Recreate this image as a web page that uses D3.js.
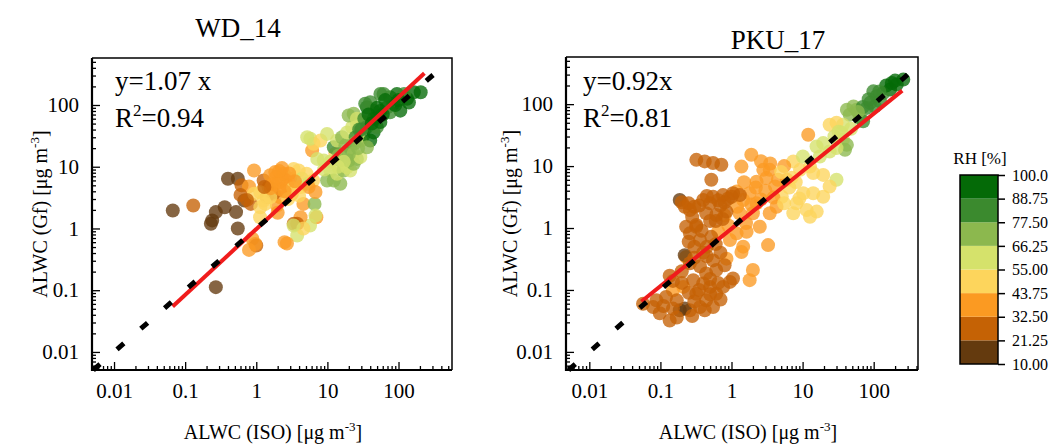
<!DOCTYPE html>
<html>
<head>
<meta charset="utf-8">
<script src="https://cdn.jsdelivr.net/npm/d3@7"></script>
<style>
  body { margin: 0; background: #fff; }
  svg { display: block; font-family: "Liberation Serif", "Times New Roman", serif; }
</style>
</head>
<body>
<svg width="1055" height="448"></svg>
<script>
// [ALWC ISO, ALWC Gf, RH %]
const wd14Points = [
  [0.067,1.95,15],[0.13,2.36,30],[0.23,1.19,15],[0.24,1.35,15],[0.27,1.84,17],[0.36,2.21,17],
  [0.52,1.84,18],[0.55,1.0,16],[0.40,6.4,19],[0.55,6.4,20],[0.62,5.0,24],[0.79,4.8,36],
  [0.68,2.84,20],[0.84,2.5,22],[0.93,3.65,50],[0.93,8.7,38],[0.27,0.112,17],[0.88,0.68,38],
  [1.0,0.53,30],[1.13,1.52,48],[0.79,0.45,38],[0.74,2.9,28],[0.6,3.5,26],
  [1.27,6.0,28],[1.49,4.67,25],[1.57,7.3,38],[1.85,8.2,38],[2.06,5.6,36],[2.43,7.7,40],
  [2.7,5.0,38],[3.0,6.4,36],[3.36,9.2,50],[3.17,3.65,38],[2.18,3.2,36],[1.75,3.65,27],
  [1.41,3.2,26],[1.14,3.87,48],[1.27,2.84,50],[1.14,2.21,52],[1.95,2.36,38],[3.95,8.7,52],
  [4.4,6.4,58],[5.1,7.7,50],[4.2,4.7,48],[5.4,5.3,56],[6.3,6.0,54],[4.6,2.5,38],[6.6,2.5,70],
  [7.0,1.52,38],[5.7,1.12,60],[4.2,1.52,38],[3.36,1.19,30],[3.76,1.19,32],[3.76,0.77,58],
  [4.6,1.0,52],[2.5,0.6,38],[0.97,0.56,34],[6.1,18.3,40],[6.4,23.5,50],[5.75,28.4,62],
  [5.2,30,60],[8.0,26.6,50],[9.9,34,58],[3.35,1.12,58],[2.7,0.57,38],[5.45,4.7,40],
  [6.8,3.9,40],[6.8,1.62,60],[1.34,2.5,50],[1.57,3.2,48],[2.2,4.3,40],[2.8,3.0,46],
  [1.7,5.2,34],[2.3,9.5,40],[3.3,4.5,50],[4.0,3.4,46],[2.0,1.8,40],
  [1.6,4.5,38],[2.3,6.2,38],[2.9,7.8,38],[1.9,6.8,36],[2.5,4.0,40],[3.5,5.8,42],[1.3,4.7,30],
  [2.1,8.5,36],
  [7.2,13.4,58],[8.9,12.6,56],[11,8.7,60],[9.9,6.0,70],[12.3,6.0,70],[15.2,5.3,70],
  [13.7,7.7,58],[16.9,8.7,68],[18.9,9.8,60],[21,8.7,58],[15.2,12.6,70],[12.9,16.2,50],
  [12.3,20.7,80],[13.7,26.6,60],[16.1,30,70],[17.9,22,72],[21,19.5,80],[23.4,16.2,66],
  [19.9,12.6,72],[23.4,11.2,72],[26,13.4,70],[29,14.3,60],[18.9,36,64],[22.3,44,62],
  [26,50,64],[19.9,67.5,74],[23.4,72,72],[26,60,62],[32,53,66],[36,92,90],[34,105,78],
  [40,111,80],[44.6,81,80],[49.6,63,78],[36,44,80],[32,32,78],[29,26.6,62],[40,26.6,90],
  [44.6,36,90],[36,20.7,74],[49.6,44,82],[55.6,53,90],[55.6,151,78],[61.6,151,80],
  [76,134,80],[84.6,105,82],[95,151,90],[106,81,92],[76,76,86],[69,92,84],[132,126,92],
  [164,161,90],[205,161,92],[14.4,15.2,72],[30,40,86],[60,70,92],[90,100,90],[120,150,88],
  [45,60,90],[25,30,82],
  [28,40,78],[33,60,84],[38,70,92],[50,90,90],[65,120,90],[42,50,92],[24,24,72],[20,16,68],
  [17,12,60],[27,20,76],[55,80,92],[100,120,92],[140,110,92],[11,12,56],[9,9,60],[14,10,64]
];
const pku17Points = [
  [261,249,95],[211,207,95],[170,172,94],[136,151,84],[110,134,84],[99,161,82],[123,111,84],
  [89,105,78],[80,87,78],[104,92,84],[57.5,81,74],[52,92,70],[46,67.5,74],[64,60,76],
  [71,53,80],[42,81,70],[37,46.5,62],[30,50,52],[24,46.5,50],[32,36,62],[37,26.6,62],
  [42,22,72],[39.5,18.3,74],[30,19.5,60],[19.5,23.5,58],[15.7,20.7,60],[17.5,14.3,58],
  [24,17.2,60],[12,32,38],[12.7,9.8,50],[14.1,7.7,50],[19.5,7.2,50],[30,6.0,62],[24,4.67,50],
  [19.5,3.2,50],[14.1,3.65,50],[10.2,3.65,50],[8.2,2.5,50],[11.4,1.95,50],[7.4,1.73,52],
  [15.8,1.84,50],[12.7,1.52,50],[9.2,8.7,44],[7.4,11.9,50],[10.1,14.3,56],[150,200,92],
  [180,220,96],[70,90,80],[28,30,58],[60,75,76],[85,120,86],[120,160,88],[200,240,94],
  [35,35,62],[48,40,66],
  [6.0,6.0,40],[5.1,3.2,48],[4.3,2.2,40],[4.1,4.7,40],[3.45,8.7,38],[2.8,8.7,38],[3.1,6.4,38],
  [2.25,5.6,38],[1.9,15.2,38],[1.38,9.8,38],[1.8,3.65,38],[1.46,2.84,38],[2.25,2.5,40],
  [2.0,1.73,40],[2.5,1.05,40],[3.45,1.73,38],[1.3,1.73,38],[1.18,3.87,38],[0.65,0.87,38],
  [0.95,0.64,38],[1.18,0.82,38],[1.63,0.87,38],[1.46,0.5,38],[0.85,0.32,38],[1.38,0.41,38],
  [3.27,0.53,38],[2.0,0.21,38],[1.8,0.144,38],[0.23,0.34,38],[0.21,0.112,36],[0.15,0.099,34],
  [2.6,2.9,40],[3.9,3.1,42],[1.6,1.2,38],[0.9,1.1,36],[5.5,10,40],
  [2.2,4.5,40],[3.0,4.0,40],[1.5,5.5,38],[4.5,6,40],[3.5,11,40],[5,8,44],[2.6,12,38],
  [1.2,2.2,38],[0.8,1.6,36],[1.9,2.4,40],[6.5,4.5,48],[8,5.5,50],[5.5,2.5,48],[9,3,50],[7,6.5,48],
  [0.32,12.6,26],[0.42,11.9,26],[0.55,11.2,26],[0.72,10.5,26],[0.52,6.0,26],[0.187,2.84,20],
  [0.22,2.2,24],[0.26,1.95,24],[0.4,2.84,24],[0.55,3.2,24],[0.76,3.4,24],[1.05,3.65,24],
  [1.31,3.4,24],[0.44,1.73,24],[0.61,1.62,24],[0.85,1.84,26],[0.23,1.05,26],[0.32,1.12,26],
  [0.26,0.82,26],[0.32,1.05,30],[0.36,0.64,26],[0.52,0.72,26],[0.22,0.365,15],[0.26,0.27,26],
  [0.36,0.24,26],[0.44,0.185,26],[0.61,0.21,26],[0.95,0.135,30],[1.05,0.153,30],[0.29,0.144,26],
  [0.4,0.127,26],[0.5,0.112,26],[0.61,0.087,26],[0.44,0.068,26],[0.36,0.053,26],[0.26,0.047,24],
  [0.187,0.047,14],[0.22,0.05,14],[0.135,0.032,28],[0.098,0.042,26],[0.079,0.053,26],
  [0.057,0.06,28],[0.088,0.068,26],[0.12,0.077,26],[0.17,0.068,26],[0.32,0.087,26],
  [0.42,0.047,28],[0.55,0.053,28],[0.76,0.112,30],[0.135,0.17,26],[0.6,1.3,26],[0.35,2.3,24],
  [0.7,2.3,26],[0.9,3.0,24],[0.3,0.5,26],[0.45,0.35,26],[0.7,0.4,30],
  [0.2,2.6,22],[0.25,2.5,24],[0.3,2.2,26],[0.5,2.5,26],[0.65,2.8,26],[0.8,2.6,26],[1.0,3.2,28],
  [0.45,3.3,26],[0.28,1.5,26],[0.5,1.3,26],[0.75,1.4,28],[0.38,0.9,26],[0.45,0.5,26],
  [0.6,0.55,28],[0.25,0.6,26],[0.2,0.2,26],[0.3,0.33,26],[0.55,0.3,26],[0.8,0.25,30],
  [0.35,0.1,26],[0.5,0.085,26],[0.7,0.07,28],[0.25,0.09,26],[0.15,0.05,26],[0.11,0.055,28],
  [0.3,0.065,26],[0.5,0.15,26],[0.65,0.13,28],[0.2,0.13,26],[0.15,0.14,30],[0.4,0.4,30],
  [0.17,0.036,28],[0.28,0.038,26]
];
// fitted lines (end points) and 1:1 line
const wd14FitIso = [0.0667, 231], wd14FitGf = [0.0543, 327];
const pku17FitIso = [0.054, 252], pku17FitGf = [0.065, 165];
const wd14OneToOne = [0.0051, 330], pku17OneToOne = [0.0051, 300];

const majorTicks = [0.01, 0.1, 1, 10, 100];
const rhBreaks = [21.25, 32.5, 43.75, 55, 66.25, 77.5, 88.75];
const rhColors = ["#643a0e", "#c56205", "#fb9a22", "#fdd55c", "#d5e26b", "#8cb84e", "#3b8a2e", "#046a07"];
const rhLabels = ["100.0", "88.75", "77.50", "66.25", "55.00", "43.75", "32.50", "21.25", "10.00"];

const svg = d3.select("svg");
const color = d3.scaleThreshold().domain(rhBreaks).range(rhColors);
const fmt = d => d3.format("~g")(d);

const minorTicks = [];
for (let k = -3; k <= 2; k++) for (let m = 2; m <= 9; m++) minorTicks.push(+(m * Math.pow(10, k)).toPrecision(2));

const panels = [
  { title: "WD_14", tx: 238, ty: 37, left: 92, right: 452, top: 58, bottom: 370, xDom: [0.0049, 565],
    eq: "y=1.07 x", r2: "=0.94", ex: 115, pts: wd14Points, fitX: wd14FitIso, fitY: wd14FitGf, one: wd14OneToOne, xt: 273, yt: 40 },
  { title: "PKU_17", tx: 778, ty: 49, left: 566, right: 918, top: 57, bottom: 370, xDom: [0.0047, 420],
    eq: "y=0.92x", r2: "=0.81", ex: 583, pts: pku17Points, fitX: pku17FitIso, fitY: pku17FitGf, one: pku17OneToOne, xt: 748, yt: 510 }
];

function axisTitle(sel, main) {
  sel.append("tspan").text(main);
  sel.append("tspan").attr("dy", -8).attr("font-size", 13).text("-3");
  sel.append("tspan").attr("dy", 8).text("]");
}

panels.forEach(p => {
  const x = d3.scaleLog().domain(p.xDom).range([p.left, p.right]);
  const y = d3.scaleLog().domain([0.0051, 577]).range([p.bottom, p.top]);
  const g = svg.append("g");

  g.append("text").attr("x", p.tx).attr("y", p.ty).attr("text-anchor", "middle")
    .attr("font-size", 27).text(p.title);

  // points
  g.append("g").selectAll("circle").data(p.pts).join("circle")
    .attr("cx", d => x(d[0])).attr("cy", d => y(d[1])).attr("r", 7)
    .attr("fill", d => color(d[2])).attr("fill-opacity", 0.78);

  // fit line and 1:1 line
  g.append("path").datum(d3.zip(p.fitX, p.fitY))
    .attr("d", d3.line().x(d => x(d[0])).y(d => y(d[1])))
    .attr("stroke", "#f01c1c").attr("stroke-width", 4).attr("fill", "none");
  g.append("path").datum(p.one.map(v => [v, v]))
    .attr("d", d3.line().x(d => x(d[0])).y(d => y(d[1])))
    .attr("stroke", "#000").attr("stroke-width", 5).attr("stroke-dasharray", "9 22.5").attr("fill", "none");

  // axes
  const xMin = minorTicks.filter(v => v > p.xDom[0] && v < p.xDom[1]);
  const yMin = minorTicks.filter(v => v > 0.0051 && v < 577);
  const ax1 = g.append("g").attr("transform", `translate(0,${p.bottom})`)
    .call(d3.axisBottom(x).tickValues(xMin).tickSize(-4).tickFormat(""));
  const ax2 = g.append("g").attr("transform", `translate(0,${p.bottom})`)
    .call(d3.axisBottom(x).tickValues(majorTicks).tickSize(-8).tickPadding(13).tickFormat(fmt));
  const ay1 = g.append("g").attr("transform", `translate(${p.left},0)`)
    .call(d3.axisLeft(y).tickValues(yMin).tickSize(-4).tickFormat(""));
  const ay2 = g.append("g").attr("transform", `translate(${p.left},0)`)
    .call(d3.axisLeft(y).tickValues(majorTicks).tickSize(-8).tickPadding(13).tickFormat(fmt));
  [ax1, ax2, ay1, ay2].forEach(a => {
    a.select(".domain").remove();
    a.selectAll("line").attr("stroke-width", 1.3);
    a.selectAll("text").attr("font-size", 21).attr("fill", "#000")
      .attr("font-family", "Liberation Serif, Times New Roman, serif");
  });

  // frame
  g.append("path").attr("d", `M${p.left},${p.top}H${p.right}V${p.bottom}`)
    .attr("stroke", "#000").attr("stroke-width", 1.5).attr("fill", "none");
  g.append("path").attr("d", `M${p.left},${p.top}V${p.bottom}H${p.right}`)
    .attr("stroke", "#000").attr("stroke-width", 2.2).attr("fill", "none");

  // fit annotation
  g.append("text").attr("x", p.ex).attr("y", 90).attr("font-size", 27).text(p.eq);
  const r = g.append("text").attr("x", p.ex).attr("y", 127).attr("font-size", 27);
  r.append("tspan").text("R");
  r.append("tspan").attr("dy", -11).attr("font-size", 17).text("2");
  r.append("tspan").attr("dy", 11).text(p.r2);

  // axis titles
  axisTitle(g.append("text").attr("x", p.xt).attr("y", 439).attr("text-anchor", "middle").attr("font-size", 20),
    "ALWC (ISO) [μg m");
  axisTitle(g.append("text").attr("transform", `translate(${p.yt + 7},${(p.top + p.bottom) / 2}) rotate(-90)`)
    .attr("text-anchor", "middle").attr("font-size", 20), "ALWC (Gf) [μg m");
});

// colour bar
const cb = { x: 960, w: 38, top: 175, bottom: 364 };
const cy = d3.scaleLinear().domain([10, 100]).range([cb.bottom, cb.top]);
const edges = [10].concat(rhBreaks, [100]);
const leg = svg.append("g");
leg.selectAll("rect").data(rhColors).join("rect")
  .attr("x", cb.x).attr("width", cb.w)
  .attr("y", (c, i) => cy(edges[i + 1])).attr("height", (c, i) => cy(edges[i]) - cy(edges[i + 1]))
  .attr("fill", c => c);
leg.append("rect").attr("x", cb.x).attr("y", cb.top).attr("width", cb.w).attr("height", cb.bottom - cb.top)
  .attr("fill", "none").attr("stroke", "#000").attr("stroke-width", 1.5);
leg.append("g").attr("transform", `translate(${cb.x + cb.w},0)`)
  .call(d3.axisRight(cy).tickValues(edges.slice().reverse()).tickSize(7).tickPadding(7)
    .tickFormat((d, i) => rhLabels[i]))
  .call(a => a.select(".domain").remove())
  .call(a => a.selectAll("line").attr("stroke-width", 1.5))
  .call(a => a.selectAll("text").attr("font-size", 16).attr("fill", "#000")
    .attr("font-family", "Liberation Serif, Times New Roman, serif"));
leg.append("text").attr("x", 980).attr("y", 164).attr("text-anchor", "middle").attr("font-size", 17).text("RH [%]");
</script>
</body>
</html>
